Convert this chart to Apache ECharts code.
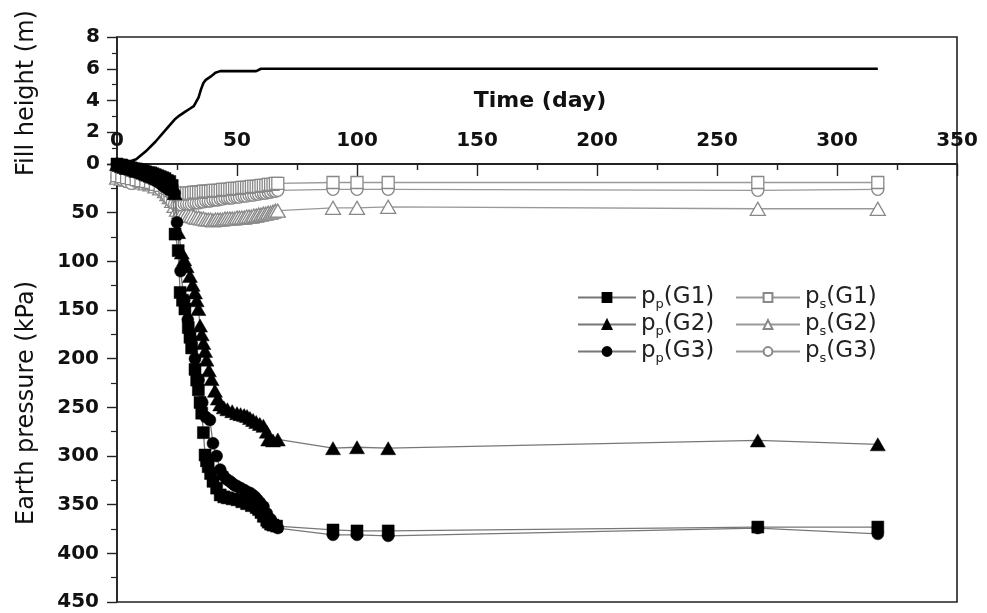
<!DOCTYPE html>
<html>
<head>
<meta charset="utf-8">
<script src="https://cdn.jsdelivr.net/npm/echarts@6/dist/echarts.min.js"></script>
<style>
  html, body { margin: 0; padding: 0; background: #fff; }
  #chart { width: 987px; height: 613px; }
</style>
</head>
<body>
<div id="chart"></div>
<script>
// Fill height (m) against time (day)
const fillDay    = [0, 4, 8, 12, 16, 20, 24, 26, 28, 30, 32, 34, 35, 36, 37, 39, 41, 43, 58, 60, 317];
const fillHeight = [0, 0.1, 0.3, 0.8, 1.4, 2.1, 2.8, 3.05, 3.25, 3.45, 3.65, 4.2, 4.7, 5.1, 5.3, 5.5, 5.75, 5.85, 5.85, 6.0, 6.0];

// Earth pressure (kPa): p_p at G1..G3
const ppG1Day = [0, 1, 2, 3, 4, 5, 6, 7, 8, 9, 10, 11, 12, 13, 14, 15, 16, 17, 18, 19, 20, 21, 22, 23, 24.2, 25.5, 26.3, 27.3, 28.3, 29.7, 30.4, 31.1, 32.5, 33.2, 33.9, 34.6, 35.3, 36, 36.7, 37.3, 38, 39, 40, 41.5, 43, 44.5, 46, 48, 50, 52, 54, 56, 58, 59, 60, 61, 62.4, 63, 64, 65, 66.5, 90, 100, 113, 267, 317];
const ppG1Val = [0, 1, 1, 2, 3, 3, 4, 5, 5, 6, 6, 7, 8, 9, 9, 10, 11, 12, 13, 14, 15, 17, 18, 22, 72, 89, 132, 140, 149, 168, 178, 189, 211, 222, 232, 245, 256, 276, 299, 305, 311, 318, 326, 333, 340, 342, 343, 344, 345, 347, 349, 351, 353, 355, 358, 362, 366, 368, 370, 371, 372, 376, 377, 377, 373, 373];

const ppG2Day = [0, 1, 2, 3, 4, 5, 6, 7, 8, 9, 10, 11, 12, 13, 14, 15, 16, 17, 18, 19, 20, 21, 22, 23, 24, 25.5, 27, 28, 29, 30.4, 31.5, 32.5, 33.2, 33.9, 34.6, 35.3, 36, 36.7, 37.3, 38.3, 39.4, 40.8, 42, 43, 44.5, 46, 48, 50, 51.5, 53, 54.2, 55.4, 56.7, 58, 59.5, 61, 62.4, 63, 65, 67, 90, 100, 113, 267, 317];
const ppG2Val = [0, 1, 2, 3, 4, 4, 5, 6, 7, 7, 8, 9, 10, 11, 12, 13, 14, 15, 16, 17, 18, 20, 22, 25, 30, 70, 91, 98, 105, 115, 124, 132, 140, 149, 166, 175, 184, 192, 201, 212, 221, 233, 241, 247, 250, 252, 254, 256, 257, 258, 259, 261, 263, 265, 267, 269, 275, 283, 284, 283, 292, 291, 292, 284, 288];

const ppG3Day = [0, 1, 2, 3, 4, 5, 6, 7, 8, 9, 10, 11, 12, 13, 14, 15, 16, 17, 18, 19, 20, 21, 22, 23, 24, 25, 26.5, 28, 29.5, 31, 32.5, 34, 35.5, 37, 38.7, 40, 41.5, 43, 44.3, 45.7, 47, 48, 49, 50, 51.5, 53, 54.2, 55.4, 56.5, 57.5, 58.5, 59.6, 61, 62.4, 64, 65, 67, 90, 100, 113, 267, 317];
const ppG3Val = [0, 1, 2, 3, 4, 5, 6, 7, 8, 9, 10, 11, 12, 13, 14, 15, 17, 18, 20, 22, 24, 25, 27, 28, 30, 60, 110, 140, 160, 180, 200, 222, 245, 260, 263, 287, 300, 314, 320, 324, 326, 328, 330, 331, 333, 335, 337, 338, 340, 342, 345, 348, 352, 359, 365, 369, 374, 381, 381, 382, 374, 380];

// Earth pressure (kPa): p_s at G1..G3 (common reading days)
const psDay   = [0, 2, 4, 6, 8, 10, 12, 14, 16, 18, 20, 21, 22, 23, 24, 25, 26, 27, 28, 29, 30, 31, 32, 33, 34, 35, 36, 37, 38, 39, 40, 41, 42, 43, 44, 45, 46, 47, 48, 49, 50, 51, 52, 53, 54, 55, 56, 57, 58, 59, 60, 61, 62, 63, 64, 65, 66, 67, 90, 100, 113, 267, 317];
const psG1Val = [12, 13, 14, 15, 16, 17, 18, 19, 21, 22, 24, 25, 27, 28, 30, 31, 31, 31, 30, 30, 30, 30, 29, 29, 29, 29, 28, 28, 28, 28, 27, 27, 27, 27, 26, 26, 26, 26, 25, 25, 25, 25, 24, 24, 24, 24, 23, 23, 23, 23, 22, 22, 22, 21, 21, 21, 20, 20, 19, 19, 19, 19, 19];
const psG2Val = [14, 15, 16, 17, 18, 19, 20, 21, 23, 25, 28, 31, 34, 38, 43, 47, 49, 50, 51, 52, 53, 53, 54, 55, 55, 56, 56, 57, 57, 57, 58, 57, 57, 57, 57, 56, 56, 56, 56, 56, 55, 55, 55, 55, 54, 54, 54, 53, 53, 52, 52, 51, 51, 50, 50, 49, 48, 48, 45, 45, 44, 46, 46];
const psG3Val = [13, 16, 18, 20, 18, 17, 20, 21, 22, 26, 30, 33, 36, 39, 41, 42, 42, 42, 41, 41, 41, 41, 40, 40, 40, 39, 39, 38, 38, 38, 37, 37, 37, 36, 36, 35, 35, 35, 35, 34, 34, 34, 33, 33, 33, 32, 32, 32, 31, 31, 30, 30, 30, 29, 29, 28, 28, 27, 26, 26, 26, 27, 26];

const pairs = (xs, ys) => xs.map((x, i) => [x, ys[i]]);

const FONT = 'DejaVu Sans';
const tickLabel = { fontFamily: FONT, fontSize: 20, fontWeight: 'bold', color: '#111' };

function filledSeries(name, symbol, size, xs, ys) {
  return {
    name, type: 'line', xAxisIndex: 1, yAxisIndex: 1,
    data: pairs(xs, ys), symbol, symbolSize: size, showAllSymbol: true,
    lineStyle: { color: '#777', width: 1.3 },
    itemStyle: { color: '#000', borderColor: '#000', borderWidth: 0.5 },
    z: 4
  };
}
function openSeries(name, symbol, size, xs, ys) {
  return {
    name, type: 'line', xAxisIndex: 1, yAxisIndex: 1,
    data: pairs(xs, ys), symbol, symbolSize: size, showAllSymbol: true,
    lineStyle: { color: '#999', width: 1.3 },
    itemStyle: { color: '#fff', borderColor: '#888', borderWidth: 1.3 },
    z: 3
  };
}

const legendRich = {
  m: { fontFamily: FONT, fontSize: 23, color: '#222' },
  s: { fontFamily: FONT, fontSize: 13, color: '#222', padding: [14, 0, 0, 0] }
};
const legendFormatter = name => {
  const sub = name.charAt(1);
  return '{m|p}{s|' + sub + '}{m|' + name.slice(2) + '}';
};

const chart = echarts.init(document.getElementById('chart'), null, { renderer: 'canvas' });
chart.setOption({
  animation: false,
  backgroundColor: '#fff',
  grid: [
    { left: 117, top: 37, width: 840, height: 127, show: true, borderColor: '#222', borderWidth: 1.6, backgroundColor: 'transparent' },
    { left: 117, top: 164, width: 840, height: 438, show: true, borderColor: '#222', borderWidth: 1.6, backgroundColor: 'transparent' }
  ],
  xAxis: [
    {
      gridIndex: 0, type: 'value', min: 0, max: 350, interval: 50, position: 'bottom',
      axisLine: { show: true, lineStyle: { color: '#222', width: 1.6 } },
      axisTick: { show: false }, splitLine: { show: false },
      axisLabel: { ...tickLabel, inside: true, margin: 13, showMinLabel: true, showMaxLabel: true }
    },
    {
      gridIndex: 1, type: 'value', min: 0, max: 350, interval: 50, position: 'top',
      axisLine: { show: true, lineStyle: { color: '#222', width: 1.6 } },
      axisTick: { show: true, inside: true, length: 12, lineStyle: { color: '#222', width: 1.4 } },
      minorTick: { show: true, splitNumber: 2, length: 6, lineStyle: { color: '#222', width: 1.4 } },
      splitLine: { show: false }, axisLabel: { show: false }
    }
  ],
  yAxis: [
    {
      gridIndex: 0, type: 'value', min: 0, max: 8, interval: 2,
      axisLine: { show: true, lineStyle: { color: '#222', width: 1.6 } },
      axisTick: { show: true, length: 10, lineStyle: { color: '#222', width: 1.4 } },
      minorTick: { show: true, splitNumber: 2, length: 5, lineStyle: { color: '#222', width: 1.2 } },
      splitLine: { show: false },
      axisLabel: { ...tickLabel, margin: 17 }
    },
    {
      gridIndex: 1, type: 'value', min: 0, max: 450, interval: 50, inverse: true,
      axisLine: { show: true, lineStyle: { color: '#222', width: 1.6 } },
      axisTick: { show: true, length: 10, lineStyle: { color: '#222', width: 1.4 } },
      minorTick: { show: true, splitNumber: 2, length: 6, lineStyle: { color: '#222', width: 1.2 } },
      splitLine: { show: false },
      axisLabel: { ...tickLabel, margin: 18, showMinLabel: false }
    }
  ],
  legend: [
    {
      left: 572, top: 281, orient: 'vertical', itemGap: 2, itemWidth: 58, itemHeight: 11,
      data: ['pp(G1)', 'pp(G2)', 'pp(G3)'],
      formatter: legendFormatter, textStyle: { rich: legendRich }
    },
    {
      left: 730, top: 281, orient: 'vertical', itemGap: 2, itemWidth: 64, itemHeight: 11,
      data: ['ps(G1)', 'ps(G2)', 'ps(G3)'],
      formatter: legendFormatter, textStyle: { rich: legendRich }
    }
  ],
  graphic: [
    { type: 'text', x: 540, y: 101, style: { text: 'Time (day)', font: 'bold 22px "DejaVu Sans"', fill: '#111', align: 'center', verticalAlign: 'middle' } },
    { type: 'text', x: 27, y: 93, rotation: Math.PI / 2, style: { text: 'Fill height (m)', font: '24px "DejaVu Sans"', fill: '#111', align: 'center', verticalAlign: 'middle' } },
    { type: 'text', x: 27, y: 403, rotation: Math.PI / 2, style: { text: 'Earth pressure (kPa)', font: '24px "DejaVu Sans"', fill: '#111', align: 'center', verticalAlign: 'middle' } }
  ],
  series: [
    {
      name: 'Fill height', type: 'line', xAxisIndex: 0, yAxisIndex: 0,
      data: pairs(fillDay, fillHeight), symbol: 'none',
      lineStyle: { color: '#000', width: 2.6 }, z: 5
    },
    openSeries('ps(G2)', 'triangle', [15, 13], psDay, psG2Val),
    openSeries('ps(G3)', 'circle', 12, psDay, psG3Val),
    openSeries('ps(G1)', 'rect', 12, psDay, psG1Val),
    filledSeries('pp(G2)', 'triangle', [15, 13], ppG2Day, ppG2Val),
    filledSeries('pp(G3)', 'circle', 12, ppG3Day, ppG3Val),
    filledSeries('pp(G1)', 'rect', 12, ppG1Day, ppG1Val)
  ]
});
</script>
</body>
</html>
